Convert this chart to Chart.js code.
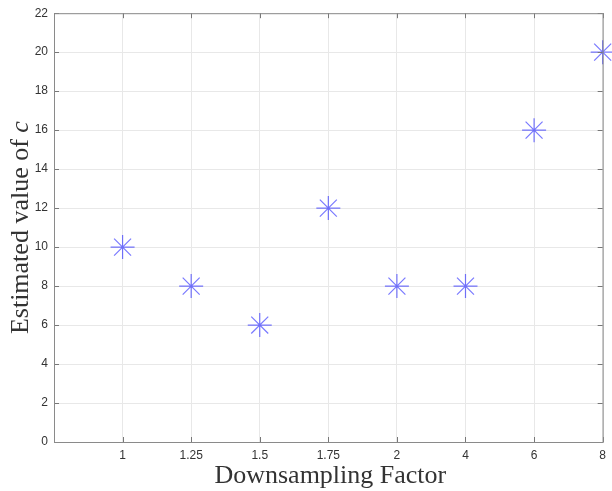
<!DOCTYPE html>
<html>
<head>
<meta charset="utf-8">
<script src="https://cdn.jsdelivr.net/npm/chart.js@4.4.1/dist/chart.umd.min.js"></script>
<style>
  html, body { margin: 0; padding: 0; background: #fff; }
  #wrap { width: 612px; height: 491px; }
</style>
</head>
<body>
<div id="wrap"><canvas id="c" width="612" height="491"></canvas></div>
<script>
// categories on the x axis (evenly spaced, slot 0 left empty)
const factors = ["1", "1.25", "1.5", "1.75", "2", "4", "6", "8"];
const estimatedC = [10, 8, 6, 12, 8, 8, 16, 20];
const yTicks = [0, 2, 4, 6, 8, 10, 12, 14, 16, 18, 20, 22];

const xLabel = "Downsampling Factor";
const yLabel = "Estimated value of ";
const yLabelVar = "c";

const points = factors.map((f, i) => ({ x: i + 1, y: estimatedC[i] }));

const axisColor = "#8a8a8a";
const gridColor = "#e8e8e8";
const tickFont = { family: "'Liberation Sans', Arial, sans-serif", size: 12 };
const titleFont = "26px 'Liberation Serif', 'DejaVu Serif', serif";
const titleFontIt = "italic 26px 'Liberation Serif', 'DejaVu Serif', serif";

// inner tick marks + axis titles, matlab style
const matlabAxes = {
  id: "matlabAxes",
  afterDraw(chart) {
    const ctx = chart.ctx;
    const a = chart.chartArea;
    const xs = chart.scales.x, ys = chart.scales.y;
    ctx.save();
    ctx.strokeStyle = "#777";
    ctx.lineWidth = 1;
    ctx.beginPath();
    xs.ticks.forEach(t => {
      const px = Math.round(xs.getPixelForValue(t.value)) + 0.5;
      ctx.moveTo(px, a.bottom); ctx.lineTo(px, a.bottom - 5);
      ctx.moveTo(px, a.top); ctx.lineTo(px, a.top + 5);
    });
    ys.ticks.forEach(t => {
      const py = Math.round(ys.getPixelForValue(t.value)) + 0.5;
      ctx.moveTo(a.left, py); ctx.lineTo(a.left + 5, py);
      ctx.moveTo(a.right, py); ctx.lineTo(a.right - 5, py);
    });
    ctx.stroke();
    // box
    ctx.strokeStyle = axisColor;
    ctx.strokeRect(a.left + 0.5, a.top + 0.5, a.right - a.left, a.bottom - a.top);

    // titles
    ctx.fillStyle = "#333";
    ctx.font = titleFont;
    ctx.textAlign = "center";
    ctx.textBaseline = "alphabetic";
    ctx.fillText(xLabel, (a.left + a.right) / 2 + 2, 483);

    ctx.translate(28, (a.top + a.bottom) / 2);
    ctx.rotate(-Math.PI / 2);
    const w1 = ctx.measureText(yLabel).width;
    ctx.font = titleFontIt;
    const w2 = ctx.measureText(yLabelVar).width;
    const start = -(w1 + w2) / 2;
    ctx.textAlign = "left";
    ctx.font = titleFont;
    ctx.fillText(yLabel, start, 0);
    ctx.font = titleFontIt;
    ctx.fillText(yLabelVar, start + w1, 0);
    ctx.restore();
  }
};

new Chart(document.getElementById("c"), {
  type: "scatter",
  data: {
    datasets: [{
      data: points,
      pointStyle: "star",
      radius: 12,
      hoverRadius: 12,
      borderWidth: 1.2,
      borderColor: "rgba(30,30,255,0.6)",
      backgroundColor: "rgba(30,30,255,0.6)",
      clip: false
    }]
  },
  options: {
    responsive: false,
    animation: false,
    layout: { autoPadding: false, padding: { top: 8, right: 8, left: 0, bottom: 0 } },
    plugins: { legend: { display: false }, tooltip: { enabled: false } },
    scales: {
      x: {
        type: "linear",
        min: 0,
        max: 8,
        afterBuildTicks: s => { s.ticks = factors.map((f, i) => ({ value: i + 1 })); },
        afterFit: s => { s.height = 49; },
        ticks: {
          font: tickFont,
          color: "#333",
          padding: 6,
          maxRotation: 0,
          callback: v => factors[v - 1]
        },
        grid: { color: gridColor, drawTicks: false },
        border: { display: false }
      },
      y: {
        min: 0,
        max: 22,
        afterBuildTicks: s => { s.ticks = yTicks.map(v => ({ value: v })); },
        afterFit: s => { s.width = 54; },
        ticks: { font: tickFont, color: "#333", padding: 6 },
        grid: { color: gridColor, drawTicks: false },
        border: { display: false }
      }
    }
  },
  plugins: [matlabAxes]
});
</script>
</body>
</html>
